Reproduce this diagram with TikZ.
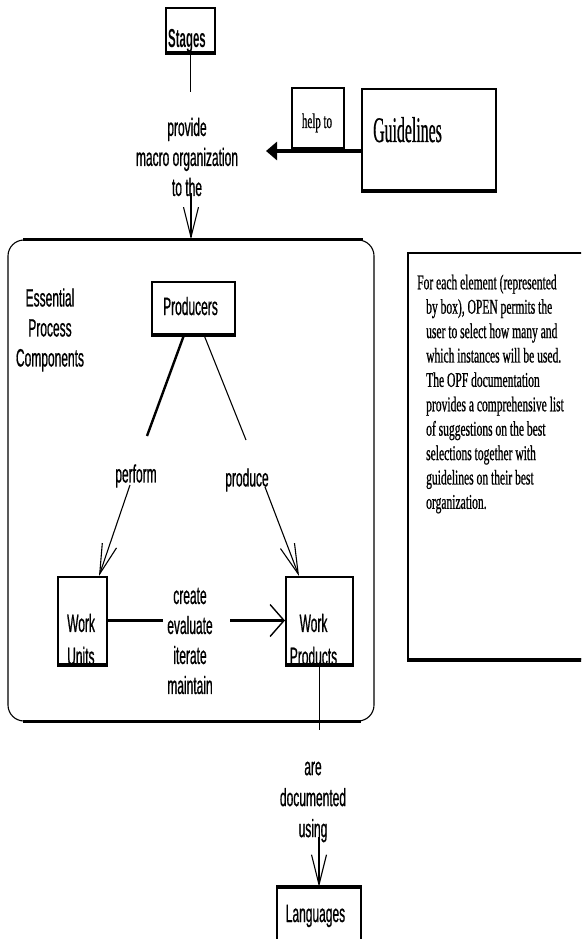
\documentclass[tikz,border=0pt]{standalone}
\usepackage{fontspec}
\setmainfont{Liberation Serif}
% condensed faces used throughout the figure
\newfontfamily\narrowsans[FakeStretch=0.48,FakeBold=0.7]{Liberation Sans}
\newfontfamily\stagesfont[FakeStretch=0.44]{Liberation Sans}
\newfontfamily\noteserif[FakeStretch=0.55,FakeBold=0.7]{Liberation Serif}
\newfontfamily\helpserif[FakeStretch=0.52,FakeBold=0.7]{Liberation Serif}
\newfontfamily\guideserif[FakeStretch=0.44,FakeBold=0.6]{Liberation Serif}
\usetikzlibrary{arrows.meta,calc}

\begin{document}
\begin{tikzpicture}[x=1pt,y=-1pt,
  lbl/.style={font=\narrowsans\fontsize{25}{30}\selectfont, inner sep=0pt, align=center},
  box/.style={draw, line width=2pt, inner sep=0pt},
  heavy/.style={line width=3.2pt},
  medium/.style={line width=2.4pt},
  thin/.style={line width=1.1pt},
  barb/.style={-{Straight Barb[length=30pt,width=15pt,line width=1.1pt]}},
  widebarb/.style={-{Straight Barb[length=14pt,width=32pt,line width=1.4pt]}},
]
\useasboundingbox (0,0) rectangle (581,939);
\clip (0,0) rectangle (581,939);

% ---- Stages -------------------------------------------------------
\node[box, minimum width=49pt, minimum height=44pt] (stages) at (190.5,30) {};
\draw[heavy] (stages.south west) -- (stages.south east);
\node[font=\stagesfont\bfseries\fontsize{26}{30}\selectfont, inner sep=0pt, anchor=base]
  (stagest) at (187,48) {Stages};
\coordinate (s1) at (190.5,92);
\draw[thin] (stages.south) -- (s1);

\node[lbl] (prov) at (187,157) {provide\\macro organization\\to the};
\coordinate (p1) at (191,193);

% ---- Guidelines ---------------------------------------------------
\node[box, minimum width=134pt, minimum height=101pt] (guide) at (429,139.5) {};
\draw[heavy] (guide.south west) -- (guide.south east);
\node[font=\guideserif\fontsize{36}{40}\selectfont, inner sep=0pt, anchor=base west]
  (guidet) at (373,142) {Guidelines};

\node[box, minimum width=52pt, minimum height=60pt] (help) at (318,118) {};
\draw[heavy] (help.south west) -- (help.south east);
\node[font=\helpserif\fontsize{21}{24}\selectfont, inner sep=0pt, anchor=base]
  (helpt) at (317,128) {help to};

\coordinate (gtip) at (266,151);
\draw[heavy, -{Triangle[length=11pt,width=18pt]}] (guide.west |- gtip) -- (gtip);

% ---- Essential process components --------------------------------
\node[draw, thin, rounded corners=16pt, minimum width=366pt, minimum height=481pt]
  (epc) at (191,480.5) {};
\draw[heavy] ($(epc.north west)+(16,0)$) -- ($(epc.north east)+(-12,0)$);
\draw[heavy] ($(epc.south west)+(16,0)$) -- ($(epc.south east)+(-14,0)$);
\draw[thin, barb] (p1) -- (epc.north -| p1);

\node[lbl] (epct) at (50,330) {Essential\\Process\\Components};

\node[box, minimum width=83pt, minimum height=52pt] (prod) at (193.5,308) {};
\draw[heavy] (prod.south west) -- (prod.south east);
\node[lbl, anchor=base] (prodt) at (190.5,315) {Producers};

\node[box, minimum width=49pt, minimum height=87pt] (wu) at (82.5,620.5) {};
\draw[heavy] (wu.south west) -- (wu.south east);
\node[lbl, align=left, anchor=west, font=\narrowsans\fontsize{25}{33}\selectfont]
  (wut) at (67,639.5) {Work\\Units};

\node[box, minimum width=67pt, minimum height=87pt] (wp) at (319.5,620.5) {};
\draw[heavy] (wp.south west) -- (wp.south east);
\node[lbl, font=\narrowsans\fontsize{25}{33}\selectfont]
  (wpt) at (313.5,639.5) {Work\\Products};

% producers perform work units
\node[lbl] (perf) at (136,476) {perform};
\coordinate (pf1) at (147,436);
\coordinate (pf2) at (130,485);
\draw[medium] ($(prod.south west)+(33,0)$) -- (pf1);
\draw[thin, barb] (pf2) -- ($(wu.north west)+(42,0)$);

% producers produce work products
\node[lbl] (prodc) at (247,480) {produce};
\coordinate (pd1) at (246,440);
\coordinate (pd2) at (265,487);
\draw[thin] ($(prod.south west)+(53,0)$) -- (pd1);
\draw[thin, barb] (pd2) -- ($(wp.north west)+(14,0)$);

% work units create work products
\node[lbl, font=\narrowsans\fontsize{25}{30}\selectfont] (cr) at (190,641)
  {create\\evaluate\\iterate\\maintain};
\coordinate (cr1) at (163,620.5);
\coordinate (cr2) at (230,620.5);
\draw[heavy] (wu.east) -- (cr1);
\draw[heavy, widebarb] (cr2) -- (wp.west);

% ---- Languages ----------------------------------------------------
\coordinate (wp1) at (319.5,730);
\draw[thin] (wp.south) -- (wp1);
\node[lbl, font=\narrowsans\fontsize{25}{31}\selectfont] (adu) at (313,802)
  {are\\documented\\using};
\node[box, minimum width=84pt, minimum height=72pt] (lang) at (319,924) {};
\draw[heavy] (lang.north west) -- (lang.north east);
\node[lbl, anchor=base] (langt) at (315.5,922) {Languages};
\coordinate (ad1) at (319,837);
\draw[thin, barb] (ad1) -- (lang.north);

% ---- note box -----------------------------------------------------
\node[box, minimum width=192pt, minimum height=406pt] (note) at (504,456) {};
\draw[heavy] (note.south west) -- (note.south east);
\node[font=\noteserif\fontsize{21}{24.4}\selectfont, inner sep=0pt, align=left, anchor=north west]
  (notet) at (417,274.5) {For each element (represented\\
  \hspace*{9pt}by box), OPEN permits the\\
  \hspace*{9pt}user to select how many and\\
  \hspace*{9pt}which instances will be used.\\
  \hspace*{9pt}The OPF documentation\\
  \hspace*{9pt}provides a comprehensive list\\
  \hspace*{9pt}of suggestions on the best\\
  \hspace*{9pt}selections together with\\
  \hspace*{9pt}guidelines on their best\\
  \hspace*{9pt}organization.};
\end{tikzpicture}
\end{document}
